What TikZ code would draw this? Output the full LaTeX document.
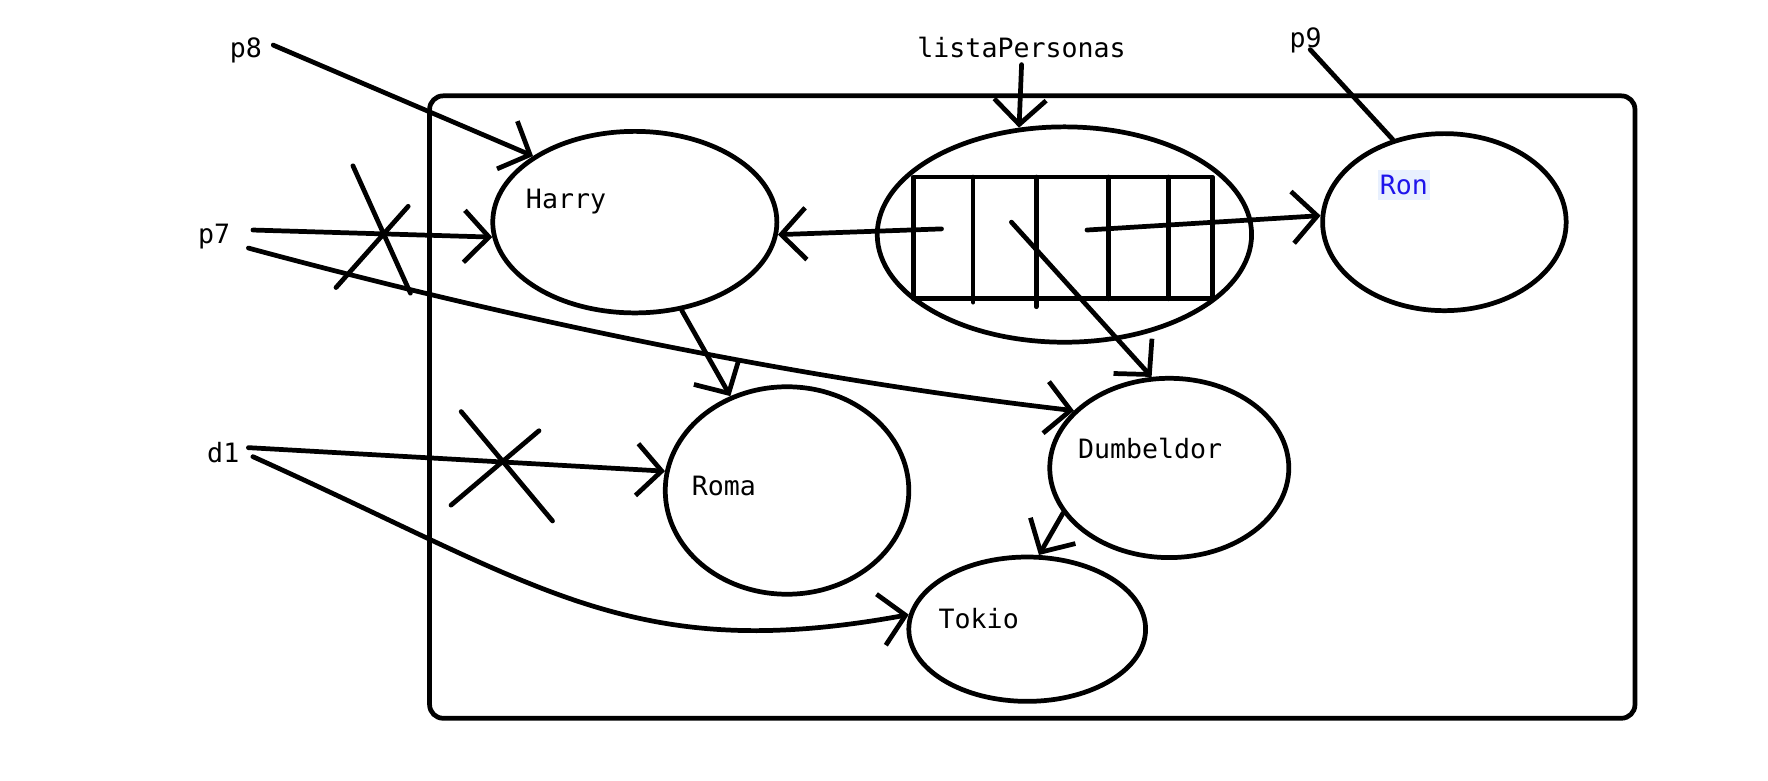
\documentclass[tikz,border=0pt]{standalone}
\usepackage{fontspec}
\usetikzlibrary{shapes.geometric,arrows.meta}
\newfontfamily\monof{DejaVu Sans Mono}
\definecolor{ronblue}{RGB}{30,20,235}
\definecolor{ronbg}{RGB}{232,240,254}
\begin{document}
\begin{tikzpicture}[x=0.5pt,y=-0.5pt,
  line width=2.1pt, line cap=round, line join=round,
  arr/.style={-{Straight Barb[length=11pt,width=23pt,line width=2.1pt]}},
  blob/.style={draw, ellipse, inner sep=0pt},
  lbl/.style={font=\monof\fontsize{11.8}{14}\selectfont, inner sep=2pt}]
\useasboundingbox (0,0) rectangle (1568,692);
% frame
\draw[rounded corners=6pt] (381,85) rectangle (1450,637);
% ellipses
\node[blob, minimum width=126pt, minimum height=80.5pt] (harry) at (563,197) {};
\node[blob, minimum width=166pt, minimum height=95.5pt] (lista) at (944,208) {};
\node[blob, minimum width=108pt, minimum height=78.5pt] (ron) at (1281,197) {};
\node[blob, minimum width=108pt, minimum height=92pt] (roma) at (698,435) {};
\node[blob, minimum width=106pt, minimum height=79.5pt] (dumb) at (1037,415) {};
\node[blob, minimum width=105pt, minimum height=64pt] (tokio) at (911,558) {};
% texts in ellipses
\node[lbl] (harryT) at (502,179) {Harry};
\node[lbl] (romaT) at (642,431) {Roma};
\node[lbl] (dumbT) at (1020,398) {Dumbeldor};
\node[lbl] (tokioT) at (868,549) {Tokio};
\node[lbl, text=ronblue, fill=ronbg, inner xsep=1pt, inner ysep=0pt, minimum height=13pt] (ronT) at (1245,164) {Ron};
% outside labels
\node[lbl] (p8) at (218,45) {p8};
\node[lbl] (p7) at (190,210) {p7};
\node[lbl] (d1) at (198,401) {d1};
\node[lbl] (p9) at (1158,36) {p9};
\node[lbl] (listaT) at (906,42) {listaPersonas};
% array inside lista
\draw (810,157) rectangle (1075,265);
\draw (863,157) -- (863,268);
\draw (919,157) -- (919,272);
\draw (983,157) -- (983,265);
\draw (1036,157) -- (1036,265);
\coordinate (c1) at (835,203);
\coordinate (c2) at (897,197);
\coordinate (c3) at (964,204);
% connectors
\draw[arr] ([shift={(4,-5)}]p8.east) -- (harry.147);
\draw[arr] ([shift={(14,-6)}]p7.east) -- (harry.186);
\draw[arr] ([shift={(10,10)}]p7.east) .. controls (450,282) and (700,335) .. (dumb.149);
\draw[arr] (listaT.south) -- (lista.113);
\draw[arr] (c1) -- (harry.-5);
\draw[arr] (c3) -- (ron.177);
\draw[arr] (c2) -- (dumb.101);
\draw ([shift={(4,8)}]p9.center) -- (ron.122);
\draw[arr] (harry.-62) -- (roma.121);
\draw[arr] ([shift={(2,-4)}]d1.east) -- (roma.171);
\draw[arr] ([shift={(6,4)}]d1.east) .. controls (480,520) and (560,590) .. (tokio.173);
\draw[arr] (dumb.203) -- (tokio.81);
% crosses
\draw (313,147) -- (364,260);
\draw (298,255) -- (362,183);
\draw (409,365) -- (490,462);
\draw (400,448) -- (478,382);
\end{tikzpicture}
\end{document}
